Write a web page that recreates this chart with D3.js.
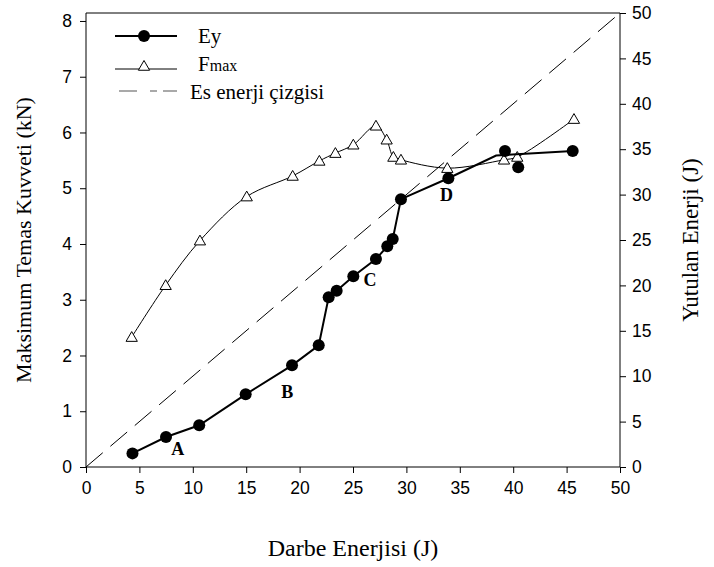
<!DOCTYPE html>
<html lang="tr">
<head>
<meta charset="utf-8">
<title>Darbe Enerjisi</title>
<script src="https://d3js.org/d3.v7.min.js"></script>
<style>
  body { margin: 0; background: #fff; }
  svg text { fill: #000; }
  .serif { font-family: "Times New Roman", "Liberation Serif", "DejaVu Serif", serif; }
  .sans { font-family: Arial, "Liberation Sans", sans-serif; }
</style>
</head>
<body>
<div id="chart"></div>
<script>
// absorbed energy (Ey) vs impact energy, right axis
var eyEnergy = [4.35, 7.49, 10.6, 14.95, 19.29, 21.79, 22.72, 23.47, 25.03, 27.15, 28.21, 28.72, 29.49, 33.93, 39.23, 40.47, 45.57];
var eyValues = [1.5, 3.3, 4.6, 8.0, 11.2, 13.4, 18.7, 19.4, 21.0, 22.9, 24.3, 25.1, 29.5, 31.8, 34.8, 33.0, 34.8];
// Ey connecting line (passes between the two scattered points near 40 J)
var eyLineEnergy = [4.35, 7.49, 10.6, 14.95, 19.29, 21.79, 22.72, 23.47, 25.03, 27.15, 28.21, 28.72, 29.49, 33.93, 38.4, 45.57];
var eyLineValues = [1.5, 3.3, 4.6, 8.0, 11.2, 13.4, 18.7, 19.4, 21.0, 22.9, 24.3, 25.1, 29.5, 31.8, 34.3, 34.8];
// max contact force, left axis
var fmaxEnergy = [4.28, 7.46, 10.67, 15.05, 19.35, 21.85, 23.35, 25.03, 27.15, 28.15, 28.78, 29.49, 33.83, 39.14, 40.38, 45.69];
var fmaxValues = [2.33, 3.26, 4.06, 4.85, 5.22, 5.49, 5.63, 5.78, 6.12, 5.87, 5.56, 5.51, 5.36, 5.51, 5.56, 6.24];
// equal energy line
var equalLine = [0, 50];
var xTicks = [0, 5, 10, 15, 20, 25, 30, 35, 40, 45, 50];
var leftTicks = [0, 1, 2, 3, 4, 5, 6, 7, 8];
var rightTicks = [0, 5, 10, 15, 20, 25, 30, 35, 40, 45, 50];
var regionLabels = ["A", "B", "C", "D"];
var regionEnergy = [8.6, 18.85, 26.6, 33.76];
var regionEy = [2.0, 8.3, 20.6, 30.0];

var W = 714, H = 567;
var m = {left: 86, right: 94, top: 13, bottom: 100};

var svg = d3.select("#chart").append("svg").attr("width", W).attr("height", H);

var x = d3.scaleLinear().domain([0, 50]).range([m.left, W - m.right]);
var yL = d3.scaleLinear().domain([0, 8.143]).range([H - m.bottom, m.top]);
var yR = d3.scaleLinear().domain([0, 50]).range([H - m.bottom, m.top]);

// axes
var gx = svg.append("g").attr("transform", "translate(0," + (H - m.bottom) + ")")
  .call(d3.axisBottom(x).tickValues(xTicks).tickSize(6).tickPadding(9).tickFormat(d3.format("d")));
var gl = svg.append("g").attr("transform", "translate(" + m.left + ",0)")
  .call(d3.axisLeft(yL).tickValues(leftTicks).tickSize(6).tickPadding(8).tickFormat(d3.format("d")));
var gr = svg.append("g").attr("transform", "translate(" + (W - m.right) + ",0)")
  .call(d3.axisRight(yR).tickValues(rightTicks).tickSize(6).tickPadding(6).tickFormat(d3.format("d")));
[gx, gl, gr].forEach(function (g) {
  g.attr("font-family", null).attr("font-size", null);
  g.selectAll("text").attr("class", "sans").style("font-size", "17.5px");
  g.selectAll("path, line").attr("stroke", "#000").attr("stroke-width", 1);
});
gx.select(".domain").attr("d", "M" + m.left + ",0H" + (W - m.right));
gl.select(".domain").attr("d", "M0," + (H - m.bottom) + "V" + m.top);
gr.select(".domain").attr("d", "M0," + (H - m.bottom) + "V" + m.top);
// top frame line
svg.append("line").attr("x1", m.left).attr("x2", W - m.right).attr("y1", m.top).attr("y2", m.top)
  .attr("stroke", "#000");

// equal energy dashed line
svg.append("line")
  .attr("x1", x(equalLine[0])).attr("y1", yR(equalLine[0]))
  .attr("x2", x(equalLine[1])).attr("y2", yR(equalLine[1]))
  .attr("stroke", "#000").attr("stroke-width", 1).attr("stroke-dasharray", "22,10");

// Fmax curve + triangles
var fData = fmaxEnergy.map(function (e, i) { return [e, fmaxValues[i]]; });
svg.append("path").datum(fData)
  .attr("fill", "none").attr("stroke", "#000").attr("stroke-width", 1)
  .attr("d", d3.line().x(function (d) { return x(d[0]); }).y(function (d) { return yL(d[1]); })
    .curve(d3.curveCatmullRom.alpha(0.5)));
var tri = d3.symbol().type(d3.symbolTriangle).size(55);
svg.append("g").selectAll("path").data(fData).join("path")
  .attr("d", tri)
  .attr("transform", function (d) { return "translate(" + x(d[0]) + "," + (yL(d[1]) + 1) + ")"; })
  .attr("fill", "#fff").attr("stroke", "#000").attr("stroke-width", 1);

// Ey line + dots
var eLine = eyLineEnergy.map(function (e, i) { return [e, eyLineValues[i]]; });
svg.append("path").datum(eLine)
  .attr("fill", "none").attr("stroke", "#000").attr("stroke-width", 2)
  .attr("d", d3.line().x(function (d) { return x(d[0]); }).y(function (d) { return yR(d[1]); }));
var eData = eyEnergy.map(function (e, i) { return [e, eyValues[i]]; });
svg.append("g").selectAll("circle").data(eData).join("circle")
  .attr("cx", function (d) { return x(d[0]); }).attr("cy", function (d) { return yR(d[1]); })
  .attr("r", 6).attr("fill", "#000");

// region letters
svg.append("g").selectAll("text").data(regionLabels).join("text")
  .attr("class", "serif")
  .attr("x", function (d, i) { return x(regionEnergy[i]); })
  .attr("y", function (d, i) { return yR(regionEy[i]); })
  .attr("dy", "0.35em").attr("text-anchor", "middle")
  .style("font-weight", "bold").style("font-size", "18px")
  .text(function (d) { return d; });

// legend
var lg = svg.append("g");
lg.append("line").attr("x1", 115).attr("x2", 177).attr("y1", 36).attr("y2", 36)
  .attr("stroke", "#000").attr("stroke-width", 2);
lg.append("circle").attr("cx", 144).attr("cy", 36).attr("r", 6).attr("fill", "#000");
lg.append("text").attr("class", "serif").attr("x", 198).attr("y", 43).style("font-size", "21px").text("Ey");

lg.append("line").attr("x1", 115).attr("x2", 177).attr("y1", 69).attr("y2", 69)
  .attr("stroke", "#000").attr("stroke-width", 1);
lg.append("path").attr("d", tri).attr("transform", "translate(144,67)")
  .attr("fill", "#fff").attr("stroke", "#000");
var ft = lg.append("text").attr("class", "serif").attr("x", 198).attr("y", 71).style("font-size", "21px");
ft.append("tspan").text("F");
ft.append("tspan").style("font-size", "16px").text("max");

lg.append("line").attr("x1", 119).attr("x2", 177).attr("y1", 91).attr("y2", 91)
  .attr("stroke", "#555").attr("stroke-width", 1.2).attr("stroke-dasharray", "18,13,7,6,20");
lg.append("text").attr("class", "serif").attr("x", 190).attr("y", 99).style("font-size", "21px")
  .text("Es enerji çizgisi");

// axis titles
svg.append("text").attr("class", "serif").attr("x", (m.left + W - m.right) / 2).attr("y", 556)
  .attr("text-anchor", "middle").style("font-size", "24px").text("Darbe Enerjisi (J)");
svg.append("text").attr("class", "serif")
  .attr("transform", "translate(31," + ((m.top + H - m.bottom) / 2) + ") rotate(-90)")
  .attr("text-anchor", "middle").style("font-size", "22px").text("Maksimum Temas Kuvveti (kN)");
svg.append("text").attr("class", "serif")
  .attr("transform", "translate(698," + ((m.top + H - m.bottom) / 2) + ") rotate(-90)")
  .attr("text-anchor", "middle").style("font-size", "23px").text("Yutulan Enerji (J)");
</script>
</body>
</html>
